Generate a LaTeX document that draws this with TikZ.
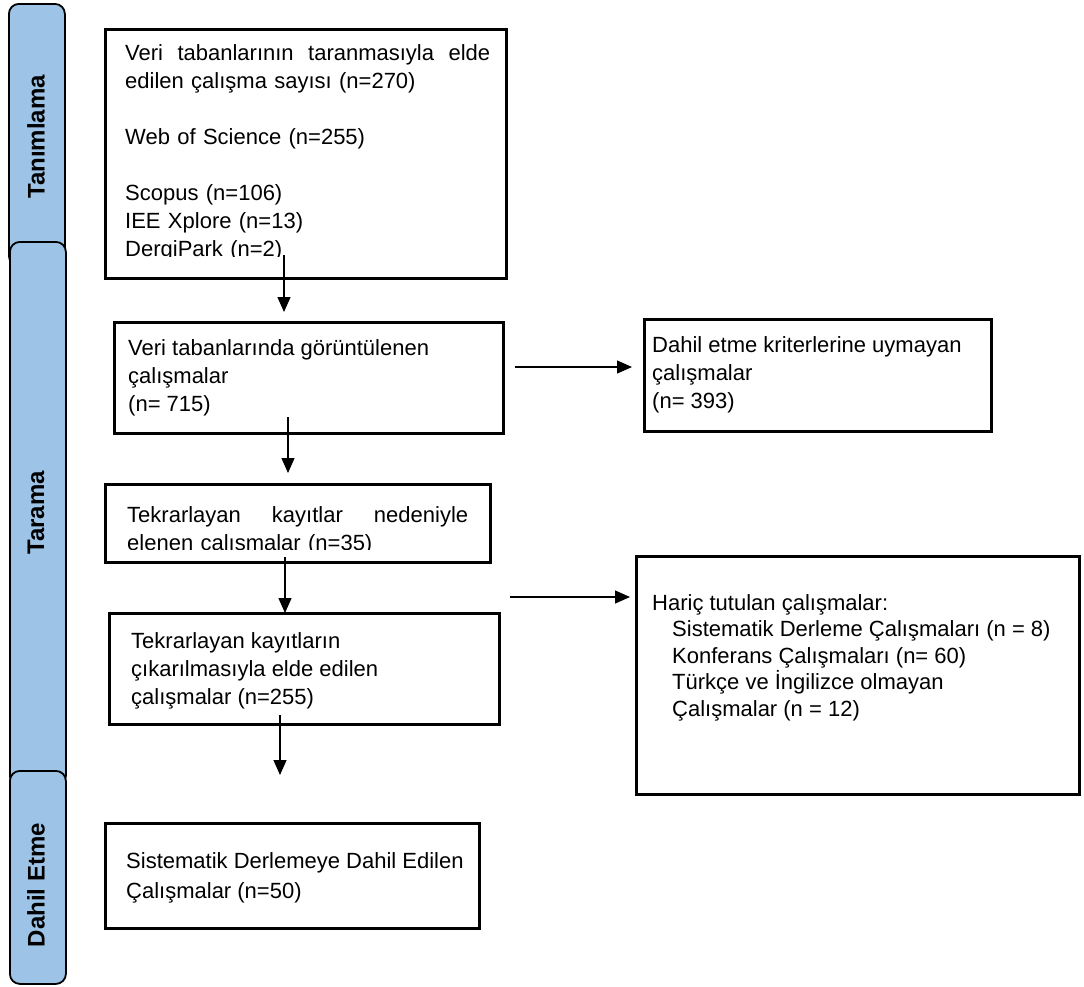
\documentclass[tikz,border=0pt]{standalone}
\usepackage{fontspec}
\setmainfont{Liberation Sans}
\usetikzlibrary{arrows.meta}
\definecolor{barblue}{RGB}{157,195,230}
\begin{document}
\begin{tikzpicture}[x=1pt,y=-1pt,
  bar/.style={draw=black, line width=1.8pt, fill=barblue, rounded corners=10pt, anchor=north west, inner sep=0pt, minimum width=56pt},
  barlabel/.style={rotate=90, inner sep=0pt, font=\fontsize{24}{28}\selectfont\bfseries},
  box/.style={draw=black, line width=2.5pt, anchor=north west, inner sep=0pt},
  txt/.style={anchor=north west, inner sep=0pt, align=left, font=\fontsize{22}{28}\selectfont},
  arr/.style={line width=1.3pt, -{Triangle[width=13pt,length=15pt]}}
]
\useasboundingbox (0,0) rectangle (1084,986);

% side bars
\node[bar, minimum height=262pt] (bar1) at (8,3) {};
\node[barlabel] (lab1) at (36,137) {Tanımlama};
\node[bar, minimum height=544pt] (bar2) at (9,241) {};
\node[barlabel] (lab2) at (36,513) {Tarama};
\node[bar, minimum height=213pt] (bar3) at (9,770) {};
\node[barlabel] (lab3) at (36,885) {Dahil Etme};

% boxes
\node[box, minimum width=401pt, minimum height=249pt] (b1) at (104,28) {};
\node[box, minimum width=389pt, minimum height=111pt] (b2) at (113,321) {};
\node[box, minimum width=347pt, minimum height=112pt] (bA) at (643,318) {};
\node[box, minimum width=385pt, minimum height=78pt] (b3) at (104,483) {};
\node[box, minimum width=390pt, minimum height=111pt] (b4) at (108,612) {};
\node[box, minimum width=443pt, minimum height=238pt] (bB) at (635,555) {};
\node[box, minimum width=374pt, minimum height=105pt] (b5) at (104,822) {};

% texts
\begin{scope}
\clip (104,28) rectangle (505,256);
\node[txt, text width=365pt] (t1) at (125,44) {Veri\hfill tabanlarının\hfill taranmasıyla\hfill elde\\edilen çalışma sayısı (n=270)\\[28pt]Web of Science (n=255)\\[28pt]Scopus (n=106)\\IEE Xplore (n=13)\\DergiPark (n=2)};
\end{scope}
\node[txt] (t2) at (128,339) {Veri tabanlarında görüntülenen\\çalışmalar\\(n= 715)};
\node[txt] (tA) at (652,336) {Dahil etme kriterlerine uymayan\\çalışmalar\\(n= 393)};
\begin{scope}
\clip (104,483) rectangle (489,549);
\node[txt, text width=341pt] (t3) at (127,506) {Tekrarlayan\hfill kayıtlar\hfill nedeniyle\\elenen çalışmalar (n=35)};
\end{scope}
\node[txt] (t4) at (131,632) {Tekrarlayan kayıtların\\çıkarılmasıyla elde edilen\\çalışmalar (n=255)};
\node[txt, font=\fontsize{22}{26.5}\selectfont] (tB) at (652,594) {Hariç tutulan çalışmalar:\\\hspace*{20pt}Sistematik Derleme Çalışmaları (n = 8)\\\hspace*{20pt}Konferans Çalışmaları (n= 60)\\\hspace*{20pt}Türkçe ve İngilizce olmayan\\\hspace*{20pt}Çalışmalar (n = 12)};
\node[txt, font=\fontsize{22}{30}\selectfont] (t5) at (126,852) {Sistematik Derlemeye Dahil Edilen\\Çalışmalar (n=50)};

% connectors
\coordinate (a1s) at (284,255); \coordinate (a1e) at (284,312);
\coordinate (a2s) at (288,417); \coordinate (a2e) at (288,473);
\coordinate (a3s) at (285,557); \coordinate (a3e) at (285,613);
\coordinate (a4s) at (280,715); \coordinate (a4e) at (280,775);
\coordinate (h1s) at (515,367); \coordinate (h1e) at (632,367);
\coordinate (h2s) at (510,597); \coordinate (h2e) at (630,597);
\draw[arr] (a1s) -- (a1e);
\draw[arr] (a2s) -- (a2e);
\draw[arr] (a3s) -- (a3e);
\draw[arr] (a4s) -- (a4e);
\draw[arr] (h1s) -- (h1e);
\draw[arr] (h2s) -- (h2e);
\end{tikzpicture}
\end{document}
